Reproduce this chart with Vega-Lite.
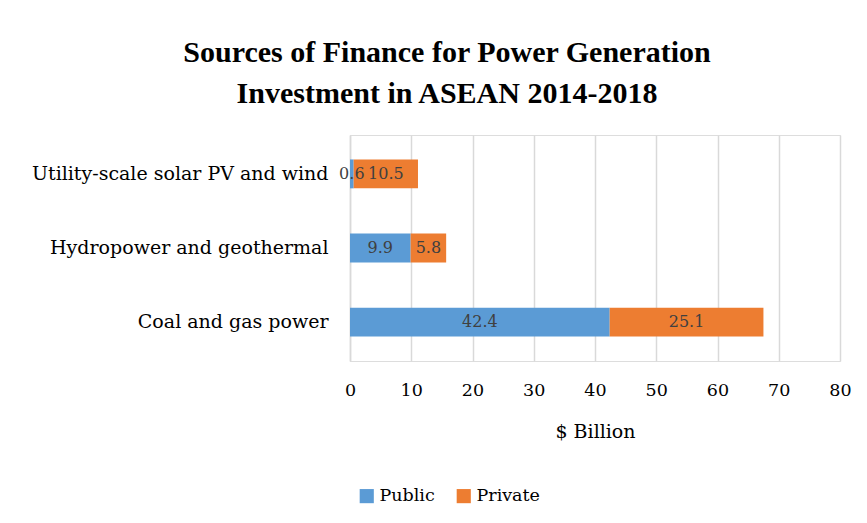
{
  "$schema": "https://vega.github.io/schema/vega-lite/v6.json",
  "autosize": "none",
  "width": 490,
  "height": 226,
  "padding": {"left": 350, "top": 135, "right": 27, "bottom": 162},
  "background": "white",
  "title": {
    "text": ["Sources of Finance for Power Generation", "Investment in ASEAN 2014-2018"],
    "font": "Liberation Serif",
    "fontSize": 30,
    "fontWeight": "bold",
    "color": "#000000",
    "anchor": "middle",
    "dx": -148,
    "offset": 26,
    "lineHeight": 41
  },
  "data": {
    "values": [
      {"category": "Utility-scale solar PV and wind", "source": "Public", "value": 0.6},
      {"category": "Utility-scale solar PV and wind", "source": "Private", "value": 10.5},
      {"category": "Hydropower and geothermal", "source": "Public", "value": 9.9},
      {"category": "Hydropower and geothermal", "source": "Private", "value": 5.8},
      {"category": "Coal and gas power", "source": "Public", "value": 42.4},
      {"category": "Coal and gas power", "source": "Private", "value": 25.1}
    ]
  },
  "encoding": {
    "y": {
      "field": "category",
      "type": "nominal",
      "sort": ["Utility-scale solar PV and wind", "Hydropower and geothermal", "Coal and gas power"],
      "scale": {"paddingInner": 0.61, "paddingOuter": 0.33},
      "axis": {
        "title": null,
        "domain": true,
        "domainColor": "#D9D9D9",
        "domainWidth": 1.5,
        "ticks": false,
        "grid": false,
        "labelPadding": 22,
        "labelLimit": 400,
        "labelFont": "DejaVu Serif",
        "labelFontSize": 19,
        "labelColor": "#000000"
      }
    }
  },
  "layer": [
    {
      "mark": {"type": "bar"},
      "encoding": {
        "x": {
          "field": "value",
          "type": "quantitative",
          "stack": "zero",
          "scale": {"domain": [0, 80], "nice": false},
          "axis": {
            "values": [0, 10, 20, 30, 40, 50, 60, 70, 80],
            "title": "$ Billion",
            "titleFont": "DejaVu Serif",
            "titleFontSize": 19,
            "titleFontWeight": "normal",
            "titleColor": "#000000",
            "titlePadding": 24,
            "domain": false,
            "ticks": false,
            "grid": true,
            "gridColor": "#D9D9D9",
            "gridWidth": 1.5,
            "labelFlush": false,
            "labelPadding": 20,
            "labelFont": "DejaVu Serif",
            "labelFontSize": 17.5,
            "labelColor": "#000000"
          }
        },
        "order": {"field": "source", "sort": "descending"},
        "color": {
          "field": "source",
          "type": "nominal",
          "sort": ["Public", "Private"],
          "scale": {"domain": ["Public", "Private"], "range": ["#5B9BD5", "#ED7D31"]},
          "legend": {
            "title": null,
            "orient": "none",
            "legendX": 8,
            "legendY": 352,
            "direction": "horizontal",
            "symbolType": "square",
            "symbolSize": 200,
            "symbolStrokeWidth": 0,
            "labelFont": "DejaVu Serif",
            "labelFontSize": 17.5,
            "labelColor": "#000000",
            "labelOffset": 4,
            "columnPadding": 20,
            "padding": 0
          }
        }
      }
    },
    {
      "transform": [
        {"stack": "value", "groupby": ["category"], "sort": [{"field": "source", "order": "descending"}], "as": ["v0", "v1"]},
        {"fold": ["v0", "v1"], "as": ["edge", "pos"]},
        {"aggregate": [{"op": "mean", "field": "pos", "as": "mid"}], "groupby": ["category", "source", "value"]}
      ],
      "mark": {"type": "text", "font": "DejaVu Serif", "fontSize": 16, "color": "#404040"},
      "encoding": {
        "x": {"field": "mid", "type": "quantitative"},
        "text": {"field": "value", "type": "quantitative", "format": ".1f"}
      }
    }
  ]
}
